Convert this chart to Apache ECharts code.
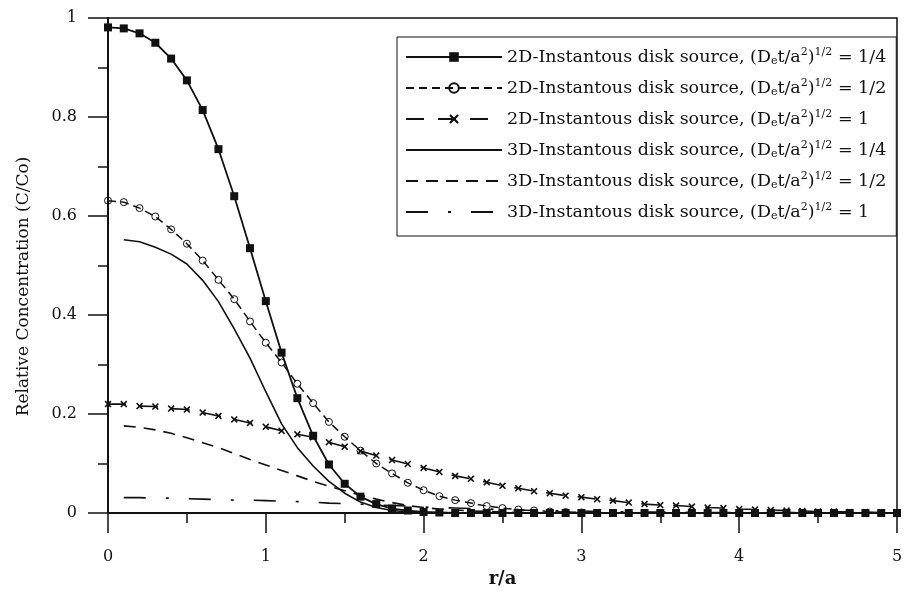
<!DOCTYPE html>
<html>
<head>
<meta charset="utf-8">
<script src="https://cdn.jsdelivr.net/npm/echarts@6/dist/echarts.min.js"></script>
<style>
html,body{margin:0;padding:0;background:#fff;}
#chart{width:913px;height:594px;}
</style>
</head>
<body>
<div id="chart"></div>
<script>
// r/a sampling positions
const rA = [0.0,0.1,0.2,0.3,0.4,0.5,0.6,0.7,0.8,0.9,
            1.0,1.1,1.2,1.3,1.4,1.5,1.6,1.7,1.8,1.9,
            2.0,2.1,2.2,2.3,2.4,2.5,2.6,2.7,2.8,2.9,
            3.0,3.1,3.2,3.3,3.4,3.5,3.6,3.7,3.8,3.9,
            4.0,4.1,4.2,4.3,4.4,4.5,4.6,4.7,4.8,4.9,5.0];

// 2D instantaneous disk source
const c2D_q = [0.981,0.979,0.969,0.950,0.918,0.874,0.814,0.735,0.640,0.535,
               0.428,0.324,0.232,0.156,0.098,0.059,0.033,0.018,0.009,0.005,
               0.002,0.001,0,0,0,0,0,0,0,0,
               0,0,0,0,0,0,0,0,0,0,
               0,0,0,0,0,0,0,0,0,0,0];
const c2D_h = [0.631,0.628,0.616,0.599,0.573,0.544,0.510,0.471,0.432,0.387,
               0.344,0.304,0.261,0.222,0.184,0.154,0.126,0.100,0.080,0.061,
               0.046,0.034,0.026,0.020,0.014,0.010,0.007,0.005,0.003,0.002,
               0.001,0,0,0,0,0,0,0,0,0,
               0,0,0,0,0,0,0,0,0,0,0];
const c2D_1 = [0.220,0.220,0.216,0.215,0.211,0.209,0.203,0.196,0.189,0.182,
               0.174,0.166,0.159,0.153,0.143,0.134,0.125,0.116,0.107,0.099,
               0.091,0.083,0.075,0.069,0.062,0.055,0.050,0.044,0.040,0.035,
               0.032,0.028,0.025,0.021,0.018,0.016,0.015,0.013,0.011,0.010,
               0.008,0.007,0.006,0.005,0.004,0.003,0.003,0.002,0.002,0.001,0.001];

// 3D instantaneous disk source (curves start at r/a = 0.1)
const c3D_q = [null,0.552,0.548,0.537,0.523,0.503,0.470,0.427,0.372,0.313,
               0.245,0.180,0.132,0.095,0.064,0.040,0.022,0.011,0.005,0.002,
               0.001,0,0,0,0,0,0,0,0,0,
               0,0,0,0,0,0,0,0,0,0,
               0,0,0,0,0,0,0,0,0,0,0];
const c3D_h = [null,0.176,0.173,0.168,0.161,0.152,0.142,0.132,0.120,0.108,
               0.097,0.086,0.075,0.064,0.054,0.045,0.036,0.028,0.021,0.015,
               0.011,0.008,0.006,0.004,0.003,0.002,0.001,0.001,0,0,
               0,0,0,0,0,0,0,0,0,0,
               0,0,0,0,0,0,0,0,0,0,0];
const c3D_1 = [null,0.031,0.031,0.030,0.030,0.029,0.028,0.027,0.026,0.026,
               0.025,0.024,0.023,0.022,0.020,0.019,0.018,0.016,0.015,0.014,
               0.012,0.011,0.010,0.009,0.008,0.007,0.006,0.005,0.005,0.004,
               0.004,0.003,0.003,0.002,0.002,0.002,0.002,0.001,0.001,0.001,
               0.001,0.001,0.001,0.001,0.001,0,0,0,0,0,0];

const seriesNames = [
  '2D-Instantous disk source, (Det/a²)^1/2 = 1/4',
  '2D-Instantous disk source, (Det/a²)^1/2 = 1/2',
  '2D-Instantous disk source, (Det/a²)^1/2 = 1',
  '3D-Instantous disk source, (Det/a²)^1/2 = 1/4',
  '3D-Instantous disk source, (Det/a²)^1/2 = 1/2',
  '3D-Instantous disk source, (Det/a²)^1/2 = 1'
];
const legendRich = [
  '2D-Instantous disk source, (D{s|e}t/a{p|2}){p|1/2} = 1/4',
  '2D-Instantous disk source, (D{s|e}t/a{p|2}){p|1/2} = 1/2',
  '2D-Instantous disk source, (D{s|e}t/a{p|2}){p|1/2} = 1',
  '3D-Instantous disk source, (D{s|e}t/a{p|2}){p|1/2} = 1/4',
  '3D-Instantous disk source, (D{s|e}t/a{p|2}){p|1/2} = 1/2',
  '3D-Instantous disk source, (D{s|e}t/a{p|2}){p|1/2} = 1'
];
const xTicks = [0,1,2,3,4,5];
const yTicks = [0,0.2,0.4,0.6,0.8,1];

function pairs(vals){
  const out = [];
  for (let i = 0; i < rA.length; i++) { if (vals[i] !== null) out.push([rA[i], vals[i]]); }
  return out;
}
const INK = '#111';
const FONT = 'DejaVu Serif';
const crossPath = 'path://M0,1.6 L1.6,0 L5,3.4 L8.4,0 L10,1.6 L6.6,5 L10,8.4 L8.4,10 L5,6.6 L1.6,10 L0,8.4 L3.4,5 Z';

const chart = echarts.init(document.getElementById('chart'), null, {renderer:'canvas'});
chart.setOption({
  backgroundColor: '#fff',
  animation: false,
  textStyle: {fontFamily: FONT, color: INK},
  grid: {left:108, right:16, top:18, bottom:81, show:true, borderColor:INK, borderWidth:1.5, backgroundColor:'transparent', outerBoundsMode:'none'},
  xAxis: {
    type:'value', min:0, max:5, interval:1,
    name:'r/a', nameLocation:'middle', nameGap:56,
    nameTextStyle:{fontFamily:FONT, fontSize:18, fontWeight:'bold', color:INK},
    axisLine:{show:true, onZero:false, lineStyle:{color:INK, width:2}},
    axisTick:{show:true, inside:false, length:20, lineStyle:{color:INK, width:1.5}},
    minorTick:{show:true, splitNumber:2, length:10, lineStyle:{color:INK, width:1.5}},
    splitLine:{show:false},
    axisLabel:{margin:36, fontSize:16, fontFamily:FONT, color:INK,
      formatter: v => xTicks.indexOf(v) >= 0 ? String(v) : ''}
  },
  yAxis: {
    type:'value', min:0, max:1, interval:0.2,
    name:'Relative Concentration (C/Co)', nameLocation:'middle', nameGap:76,
    nameTextStyle:{fontFamily:FONT, fontSize:17, color:INK, padding:[0,42,0,0]},
    axisLine:{show:true, onZero:false, lineStyle:{color:INK, width:2}},
    axisTick:{show:true, inside:false, length:20, lineStyle:{color:INK, width:1.5}},
    minorTick:{show:true, splitNumber:2, length:10, lineStyle:{color:INK, width:1.5}},
    splitLine:{show:false},
    axisLabel:{margin:31, fontSize:16, fontFamily:FONT, color:INK,
      formatter: v => { const t = yTicks.find(k => Math.abs(k - v) < 1e-9); return t === undefined ? '' : String(t); }}
  },
  legend: {
    orient:'vertical', left:397, top:37,
    padding:[10, 10, 14, 8],
    itemWidth:96, itemHeight:12, itemGap:11,
    borderColor:INK, borderWidth:1, backgroundColor:'#fff',
    selectedMode:false,
    data: seriesNames,
    formatter: name => legendRich[seriesNames.indexOf(name)],
    textStyle:{fontFamily:FONT, fontSize:17.5, color:INK, lineHeight:20,
      rich:{
        s:{fontFamily:FONT, fontSize:11, color:INK, verticalAlign:'bottom', lineHeight:14},
        p:{fontFamily:FONT, fontSize:11, color:INK, verticalAlign:'top', lineHeight:12}
      }}
  },
  series: [
    {name:seriesNames[3], type:'line', data:pairs(c3D_q), symbol:'circle', showSymbol:false,
     itemStyle:{color:'transparent', borderColor:'transparent'},
     lineStyle:{color:INK, width:1.6, type:'solid'}, z:2},
    {name:seriesNames[4], type:'line', data:pairs(c3D_h), symbol:'circle', showSymbol:false,
     itemStyle:{color:'transparent', borderColor:'transparent'},
     lineStyle:{color:INK, width:1.6, type:[12,8]}, z:2},
    {name:seriesNames[5], type:'line', data:pairs(c3D_1), symbol:'circle', showSymbol:false,
     itemStyle:{color:'transparent', borderColor:'transparent'},
     lineStyle:{color:INK, width:1.6, type:[22,20,3,20]}, z:2},
    {name:seriesNames[2], type:'line', data:pairs(c2D_1), symbol:crossPath, symbolSize:7, showAllSymbol:true,
     itemStyle:{color:INK, borderWidth:0},
     lineStyle:{color:INK, width:1.6, type:[18,14]}, z:3},
    {name:seriesNames[1], type:'line', data:pairs(c2D_h), symbol:'circle', symbolSize:7, showAllSymbol:true,
     itemStyle:{color:'transparent', borderColor:INK, borderWidth:1},
     lineStyle:{color:INK, width:1.5, type:[8,5]}, z:4},
    {name:seriesNames[0], type:'line', data:pairs(c2D_q), symbol:'rect', symbolSize:8, showAllSymbol:true,
     itemStyle:{color:INK, borderWidth:0},
     lineStyle:{color:INK, width:1.8, type:'solid'}, z:5}
  ]
});
</script>
</body>
</html>
